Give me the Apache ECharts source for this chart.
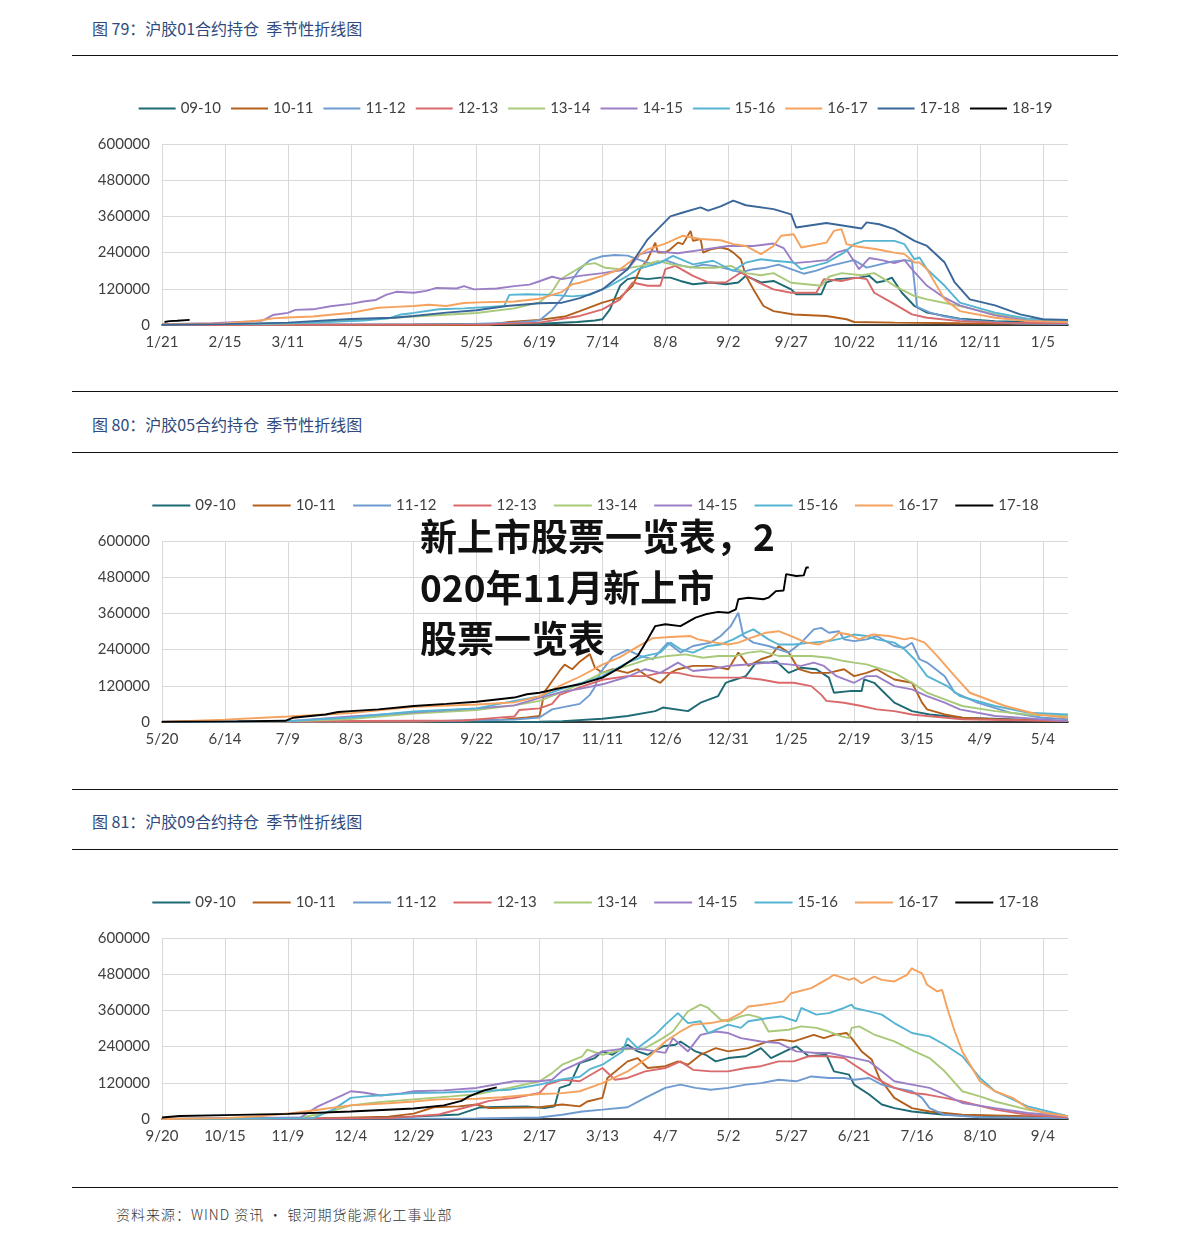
<!DOCTYPE html>
<html><head><meta charset="utf-8">
<script src="https://cdn.jsdelivr.net/npm/echarts@6/dist/echarts.min.js"></script>
<style>
html,body{margin:0;padding:0;background:#fff;}
body{width:1191px;height:1243px;position:relative;overflow:hidden;font-family:"Noto Sans CJK SC",sans-serif;}
.hr{position:absolute;left:72px;width:1046px;height:0;border-top:1.3px solid #111;}
.title{position:absolute;left:92px;font-size:16px;color:#2f4a7c;line-height:20px;white-space:pre;}
.chart{position:absolute;left:0;width:1191px;height:300px;}
#src{position:absolute;left:116px;top:1204px;font-size:14px;color:#333;letter-spacing:1px;white-space:pre;font-weight:300;}
#wm{position:absolute;left:420px;top:510px;font-size:37px;line-height:51px;font-weight:bold;color:#111;white-space:pre;z-index:10;}
</style></head>
<body>
<div class="title" style="top:18px">图 79：沪胶01合约持仓  季节性折线图</div>
<div class="hr" style="top:55px"></div>
<div class="hr" style="top:391px"></div>
<div class="title" style="top:414px">图 80：沪胶05合约持仓  季节性折线图</div>
<div class="hr" style="top:452px"></div>
<div class="hr" style="top:789px"></div>
<div class="title" style="top:811px">图 81：沪胶09合约持仓  季节性折线图</div>
<div class="hr" style="top:849px"></div>
<div class="hr" style="top:1187px"></div>
<div id="src">资料来源：WIND 资讯 • 银河期货能源化工事业部</div>
<div id="c1" class="chart" style="top:80px"></div>
<div id="c2" class="chart" style="top:477px"></div>
<div id="c3" class="chart" style="top:874px"></div>
<div id="wm">新上市股票一览表，2
020年11月新上市
股票一览表</div>
<script>
// tick labels (every 25 days) and series names
const p1Ticks = ['1/21','2/15','3/11','4/5','4/30','5/25','6/19','7/14','8/8','9/2','9/27','10/22','11/16','12/11','1/5'];
const p2Ticks = ['5/20','6/14','7/9','8/3','8/28','9/22','10/17','11/11','12/6','12/31','1/25','2/19','3/15','4/9','5/4'];
const p3Ticks = ['9/20','10/15','11/9','12/4','12/29','1/23','2/17','3/13','4/7','5/2','5/27','6/21','7/16','8/10','9/4'];
const names1 = ['09-10','10-11','11-12','12-13','13-14','14-15','15-16','16-17','17-18','18-19'];
const names23 = ['09-10','10-11','11-12','12-13','13-14','14-15','15-16','16-17','17-18'];

// values: [day offset from first tick, open interest in thousands]
// Panel 1 (沪胶01)
const p1_0910 = [[0,1],[100,2],[150,4],[165,10],[172,15],[175,19],[178,52],[182,130],[185,152],[188,157],[193,152],[198,157],[202,157],[206,146],[211,135],[218,141],[224,135],[229,141],[232,163],[238,141],[243,146],[250,118],[252,102],[262,102],[264,141],[268,152],[277,157],[281,163],[284,141],[287,146],[290,157],[294,107],[299,63],[304,41],[317,21],[331,13],[360,8]];
const p1_1011 = [[0,0],[130,1],[138,10],[150,17],[160,28],[166,46],[175,74],[182,91],[187,130],[190,185],[193,218],[196,273],[197,240],[200,240],[202,251],[205,273],[207,268],[210,312],[211,279],[214,285],[215,240],[218,251],[222,257],[225,251],[227,240],[230,218],[232,163],[235,118],[239,63],[243,46],[251,35],[264,30],[272,19],[275,10],[291,8],[317,6],[360,4]];
const p1_1112 = [[0,1],[120,3],[140,8],[150,15],[155,50],[160,100],[163,150],[166,185],[170,215],[175,228],[180,232],[185,230],[190,215],[195,200],[200,215],[205,200],[210,190],[215,200],[220,195],[225,185],[230,175],[235,185],[240,190],[245,200],[250,185],[255,170],[260,180],[265,195],[270,205],[275,215],[280,190],[285,200],[290,210],[295,215],[298,212],[300,60],[305,42],[310,30],[320,15],[340,5],[360,3]];
const p1_1213 = [[0,0],[130,2],[150,8],[158,19],[166,30],[175,52],[182,85],[187,141],[193,130],[198,130],[200,185],[204,196],[211,163],[217,141],[224,141],[230,174],[237,141],[243,118],[250,107],[260,107],[263,152],[270,146],[276,157],[280,152],[283,107],[290,74],[298,35],[304,24],[317,13],[331,8],[360,6]];
const p1_1314 = [[0,2],[50,5],[75,15],[100,28],[125,40],[140,55],[150,75],[155,110],[158,150],[163,175],[168,200],[172,205],[176,190],[182,185],[190,195],[197,212],[203,200],[212,190],[220,190],[226,196],[232,172],[238,165],[243,172],[250,140],[262,130],[265,160],[270,172],[278,165],[283,172],[287,152],[291,130],[299,96],[304,85],[317,63],[331,35],[344,19],[360,13]];
const p1_1415 = [[0,3],[20,6],[35,12],[40,15],[44,33],[50,40],[53,50],[60,52],[67,62],[75,70],[80,78],[85,83],[89,100],[93,110],[100,107],[105,113],[109,123],[117,121],[120,129],[124,118],[133,121],[140,129],[146,134],[150,145],[155,160],[159,152],[166,163],[175,172],[185,185],[190,235],[195,245],[205,238],[215,250],[225,262],[235,262],[243,270],[247,255],[251,205],[258,210],[264,215],[268,240],[272,250],[277,185],[281,222],[286,215],[291,205],[295,215],[299,175],[304,130],[310,95],[317,65],[331,32],[344,14],[360,8]];
const p1_1516 = [[0,2],[40,4],[60,8],[80,15],[90,22],[95,35],[100,40],[110,52],[120,55],[130,60],[136,63],[138,100],[145,102],[155,100],[163,95],[170,100],[178,130],[185,163],[189,185],[198,207],[203,229],[211,201],[219,213],[227,179],[232,207],[238,218],[243,213],[251,207],[254,185],[264,207],[271,240],[275,268],[279,279],[291,279],[295,268],[299,218],[301,224],[304,185],[311,130],[317,74],[331,41],[344,21],[360,13]];
const p1_1617 = [[0,3],[25,5],[39,15],[44,22],[50,25],[60,28],[68,35],[75,40],[80,48],[86,57],[93,60],[100,63],[106,67],[113,63],[120,73],[126,75],[140,78],[150,87],[155,100],[159,110],[163,135],[166,140],[175,163],[182,185],[189,229],[193,251],[200,270],[207,296],[214,285],[222,281],[227,268],[232,262],[238,235],[243,262],[246,296],[251,301],[254,257],[264,273],[267,312],[270,318],[272,268],[275,262],[284,251],[291,240],[295,235],[299,207],[301,207],[304,185],[311,85],[317,46],[331,24],[344,13],[360,10]];
const p1_1718 = [[0,1],[25,3],[50,8],[75,20],[92,24],[100,30],[113,41],[125,49],[137,63],[150,72],[159,74],[166,89],[175,118],[185,185],[193,284],[197,318],[202,360],[207,373],[214,390],[217,379],[222,393],[227,412],[232,397],[243,384],[250,367],[252,323],[264,338],[271,329],[278,320],[280,340],[285,334],[291,318],[299,279],[304,262],[311,207],[315,141],[321,85],[331,65],[341,35],[350,19],[360,17]];
const p1_1819 = [[1,10],[3,13],[6,14],[11,17]];

// Panel 2 (沪胶05)
const p2_0910 = [[0,0],[150,1],[159,3],[175,11],[185,20],[196,36],[199,48],[209,36],[214,64],[221,86],[224,130],[226,136],[232,152],[236,197],[241,197],[244,202],[249,163],[254,180],[260,175],[265,147],[267,97],[274,103],[278,103],[279,141],[283,130],[287,97],[291,64],[298,36],[305,25],[318,14],[360,3]];
const p2_1011 = [[0,0],[100,1],[135,8],[145,15],[150,20],[152,100],[155,135],[158,170],[160,190],[163,175],[166,200],[170,225],[172,180],[175,163],[179,175],[185,163],[189,175],[193,150],[198,130],[202,163],[205,175],[211,186],[218,186],[225,175],[229,230],[233,186],[238,208],[242,219],[245,252],[249,230],[253,175],[258,163],[265,163],[271,175],[275,152],[280,163],[284,175],[291,141],[298,130],[302,64],[304,42],[311,25],[318,14],[331,9],[360,3]];
const p2_1112 = [[0,0],[100,2],[140,8],[150,15],[155,42],[160,50],[166,60],[170,90],[172,116],[174,162],[179,215],[185,239],[190,219],[195,208],[201,263],[206,230],[211,252],[218,263],[222,285],[226,318],[229,362],[231,285],[235,263],[241,252],[249,230],[254,263],[259,307],[262,312],[265,296],[269,301],[271,274],[275,268],[280,274],[284,285],[291,252],[295,246],[298,263],[301,208],[304,197],[311,152],[315,97],[324,64],[337,31],[350,14],[360,9]];
const p2_1213 = [[0,0],[120,5],[130,12],[140,18],[142,40],[150,45],[155,60],[158,90],[166,115],[175,140],[185,152],[192,152],[198,163],[205,163],[211,152],[218,147],[225,147],[231,147],[238,141],[245,130],[251,130],[258,119],[262,90],[264,70],[271,64],[278,53],[284,42],[291,36],[298,25],[304,20],[318,9],[360,3]];
const p2_1314 = [[0,0],[50,2],[75,10],[100,28],[125,40],[140,55],[150,70],[159,100],[167,130],[175,163],[185,186],[193,208],[201,219],[208,224],[215,213],[221,219],[228,219],[233,230],[238,235],[245,219],[251,219],[258,219],[265,213],[271,202],[275,197],[280,191],[286,175],[291,163],[298,130],[304,97],[311,75],[318,53],[331,36],[344,25],[360,20]];
const p2_1415 = [[0,0],[50,3],[75,18],[100,32],[125,45],[140,55],[150,80],[159,100],[166,110],[175,125],[185,150],[192,175],[198,163],[205,197],[211,169],[218,175],[225,186],[231,190],[241,197],[249,191],[254,186],[259,197],[263,186],[268,152],[275,130],[280,152],[284,152],[291,119],[298,108],[304,86],[311,64],[317,42],[331,20],[360,3]];
const p2_1516 = [[0,0],[50,3],[75,15],[100,35],[125,45],[140,70],[150,85],[159,110],[167,130],[175,152],[185,197],[192,219],[198,230],[202,263],[206,241],[211,230],[217,252],[222,257],[227,274],[232,296],[235,307],[241,274],[245,257],[251,257],[258,263],[265,268],[271,279],[275,290],[280,285],[284,274],[291,263],[295,241],[299,208],[304,152],[312,119],[317,86],[331,53],[344,31],[360,25]];
const p2_1617 = [[0,0],[25,8],[50,18],[65,25],[75,30],[100,50],[125,58],[140,65],[150,85],[158,120],[166,150],[175,190],[182,215],[189,250],[195,278],[202,282],[210,285],[213,274],[220,263],[225,257],[229,263],[234,279],[240,296],[245,301],[250,285],[256,263],[261,257],[266,274],[269,296],[273,290],[277,274],[282,290],[289,285],[295,274],[298,279],[303,263],[308,219],[315,152],[321,97],[335,53],[348,25],[360,14]];
const p2_1718 = [[0,1],[30,2],[49,4],[52,14],[65,25],[70,33],[75,36],[86,42],[100,53],[113,60],[125,67],[140,81],[145,92],[150,97],[159,114],[166,125],[175,147],[182,180],[189,219],[193,274],[196,318],[200,324],[206,318],[212,346],[216,357],[221,365],[225,362],[228,373],[229,407],[233,412],[239,407],[241,412],[244,434],[247,436],[248,490],[252,484],[255,486],[256,512],[257,512]];

// Panel 3 (沪胶09)
const p3_0910 = [[0,0],[75,2],[100,8],[118,15],[126,38],[133,40],[145,42],[152,36],[156,42],[158,103],[162,114],[166,185],[172,202],[175,224],[179,213],[185,246],[189,224],[193,213],[199,241],[204,246],[206,257],[212,224],[216,213],[220,191],[225,202],[232,208],[238,235],[242,202],[249,230],[252,241],[257,208],[264,213],[267,158],[273,147],[275,114],[281,81],[286,48],[291,36],[298,25],[311,14],[360,3]];
const p3_1011 = [[0,0],[60,2],[90,8],[100,18],[108,39],[118,42],[125,48],[130,36],[150,39],[159,48],[166,42],[169,58],[175,70],[177,136],[185,191],[189,202],[193,169],[200,175],[205,191],[209,180],[214,213],[220,235],[225,224],[233,235],[241,257],[246,263],[251,257],[259,279],[263,268],[267,279],[272,285],[274,268],[278,224],[282,197],[285,136],[291,70],[298,36],[305,25],[318,14],[360,6]];
const p3_1112 = [[0,0],[125,2],[150,5],[159,14],[167,25],[175,31],[185,39],[192,70],[200,103],[206,114],[212,103],[218,97],[225,103],[232,114],[238,119],[245,130],[252,125],[258,141],[265,136],[271,136],[275,130],[281,136],[286,114],[291,103],[298,92],[302,70],[305,36],[311,14],[325,6],[360,3]];
const p3_1213 = [[0,0],[90,3],[110,15],[125,48],[130,60],[140,70],[150,86],[153,114],[159,130],[166,125],[175,169],[180,130],[185,136],[192,158],[200,169],[206,191],[211,163],[218,158],[225,158],[232,169],[238,175],[245,191],[251,191],[257,208],[265,208],[271,202],[275,180],[281,147],[286,125],[291,103],[298,86],[304,81],[311,70],[318,58],[331,31],[344,14],[360,6]];
const p3_1314 = [[0,0],[40,2],[55,5],[65,20],[75,45],[85,55],[100,65],[115,75],[125,82],[138,103],[150,125],[155,152],[159,180],[167,208],[169,230],[175,213],[183,230],[192,235],[199,268],[203,290],[209,357],[214,379],[217,368],[222,329],[225,324],[230,340],[233,346],[238,335],[241,290],[249,296],[254,307],[260,302],[265,290],[270,274],[273,268],[274,302],[277,307],[283,280],[291,257],[299,224],[305,202],[311,158],[318,92],[325,75],[331,58],[344,31],[360,9]];
const p3_1415 = [[0,0],[55,5],[62,42],[72,80],[75,92],[80,88],[87,78],[95,85],[100,92],[112,95],[125,103],[133,115],[140,125],[150,125],[155,130],[159,160],[167,191],[175,224],[185,235],[192,230],[200,219],[203,268],[209,224],[214,279],[220,290],[225,285],[230,268],[238,257],[245,252],[252,224],[260,219],[265,219],[271,208],[275,202],[281,191],[286,158],[291,125],[298,114],[305,103],[311,81],[318,53],[331,36],[344,20],[360,9]];
const p3_1516 = [[0,0],[60,3],[68,31],[75,70],[81,75],[100,86],[112,88],[125,92],[138,97],[150,114],[158,130],[166,140],[170,165],[175,180],[183,224],[185,268],[189,235],[196,279],[200,313],[205,351],[209,318],[214,324],[217,285],[225,313],[230,302],[233,324],[241,335],[246,340],[252,324],[254,368],[260,346],[265,351],[271,368],[274,379],[275,368],[281,357],[286,346],[291,318],[298,285],[305,274],[311,246],[318,208],[325,136],[331,92],[344,42],[360,9]];
const p3_1617 = [[0,0],[25,3],[40,10],[50,18],[60,28],[70,40],[75,45],[90,52],[100,58],[110,65],[125,67],[135,72],[150,83],[158,85],[166,92],[175,119],[185,158],[193,202],[200,257],[206,290],[211,313],[218,318],[225,329],[230,351],[233,373],[238,378],[243,384],[247,390],[250,417],[258,434],[265,467],[267,478],[273,461],[275,467],[278,450],[283,472],[286,461],[291,456],[296,478],[298,500],[299,494],[302,483],[304,445],[308,423],[310,428],[312,368],[315,290],[318,224],[325,125],[331,92],[338,70],[344,36],[351,20],[360,9]];
const p3_1718 = [[0,5],[7,10],[25,13],[50,17],[75,25],[100,35],[112,45],[119,60],[122,75],[125,85],[128,95],[133,105]];

const baseColors = ['#1f6b75','#b4601d','#6f9bd1','#d9696b','#a9c97a','#9b7fc6','#56b4d3','#f5a25e'];
const colors1 = baseColors.concat(['#3a6799','#000000']);
const colors23 = baseColors.concat(['#000000']);

function makeOption(ticks, names, colors, datas, legendIcon, legendGap){
  const font = 'Lato';
  return {
    animation:false,
    color: colors,
    legend:{top:16,left:'center',icon:'rect',itemWidth:legendIcon,itemHeight:2,itemGap:legendGap,
      textStyle:{fontFamily:font,fontSize:15,color:'#404040'},data:names},
    grid:{left:162,right:123,top:64,height:181},
    xAxis:{type:'value',min:0,max:360,interval:25,
      axisLine:{lineStyle:{color:'#000',width:1.6}},axisTick:{show:false},
      splitLine:{show:true,showMaxLine:false,lineStyle:{color:'#d9d9d9',width:1}},
      axisLabel:{fontFamily:font,fontSize:15,color:'#404040',margin:10,showMaxLabel:false,
        formatter:function(v){const i=Math.round(v/25);return (v%25===0&&ticks[i])?ticks[i]:'';}}},
    yAxis:{type:'value',min:0,max:600,interval:120,
      axisLine:{show:false},axisTick:{show:false},
      splitLine:{lineStyle:{color:'#d9d9d9',width:1}},
      axisLabel:{fontFamily:font,fontSize:15,color:'#404040',margin:12,
        formatter:function(v){return String(v*1000);}}},
    series: names.map(function(n,i){return {name:n,type:'line',data:datas[i],showSymbol:false,
      lineStyle:{width:1.9,color:colors[i]},itemStyle:{color:colors[i]}};})
  };
}
echarts.init(document.getElementById('c1')).setOption(makeOption(p1Ticks,names1,colors1,
  [p1_0910,p1_1011,p1_1112,p1_1213,p1_1314,p1_1415,p1_1516,p1_1617,p1_1718,p1_1819],37,10));
echarts.init(document.getElementById('c2')).setOption(makeOption(p2Ticks,names23,colors23,
  [p2_0910,p2_1011,p2_1112,p2_1213,p2_1314,p2_1415,p2_1516,p2_1617,p2_1718],38,17));
echarts.init(document.getElementById('c3')).setOption(makeOption(p3Ticks,names23,colors23,
  [p3_0910,p3_1011,p3_1112,p3_1213,p3_1314,p3_1415,p3_1516,p3_1617,p3_1718],38,17));
</script>
</body></html>
